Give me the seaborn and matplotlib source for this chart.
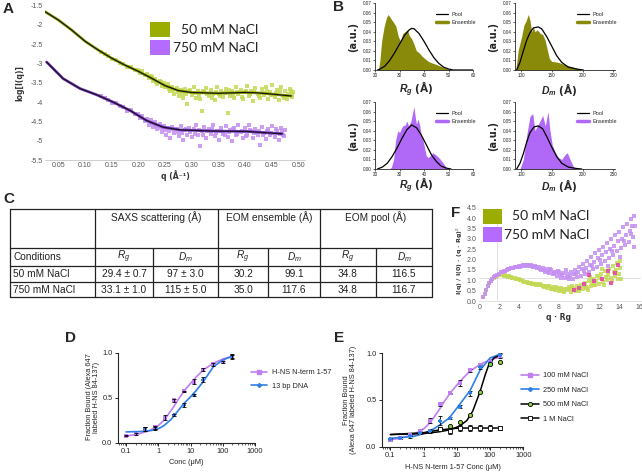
import matplotlib
matplotlib.use("Agg")
import matplotlib.pyplot as plt
from matplotlib.patches import Rectangle
from matplotlib.lines import Line2D
import seaborn as sns

# ====================== DATA ======================
# ---- Panel A: SAXS profiles (q in 1/A, log I) ----
A50_FIT_Q = [0.025, 0.05, 0.075, 0.10, 0.125, 0.15, 0.175, 0.20, 0.225, 0.25, 0.275, 0.30, 0.35, 0.40, 0.425, 0.45, 0.487]
A50_FIT_Y = [-1.655, -1.87, -2.13, -2.42, -2.65, -2.86, -3.04, -3.20, -3.38, -3.57, -3.70, -3.75, -3.77, -3.75, -3.76, -3.79, -3.84]
A750_FIT_Q = [0.028, 0.059, 0.091, 0.122, 0.153, 0.185, 0.216, 0.247, 0.279, 0.341, 0.404, 0.47]
A750_FIT_Y = [-2.96, -3.39, -3.65, -3.81, -4.00, -4.22, -4.48, -4.65, -4.72, -4.75, -4.76, -4.82]

A50_PTS_Q = [0.130, 0.137, 0.144, 0.151, 0.158, 0.165, 0.172, 0.179, 0.186, 0.193, 0.200, 0.204, 0.208, 0.212,
             0.216, 0.220, 0.224, 0.228, 0.232, 0.236, 0.240, 0.244, 0.248, 0.252, 0.256, 0.260, 0.264, 0.268,
             0.272, 0.276, 0.280, 0.284, 0.288, 0.292, 0.296, 0.300, 0.304, 0.308, 0.312, 0.316, 0.320, 0.324,
             0.328, 0.332, 0.336, 0.340, 0.344, 0.348, 0.352, 0.356, 0.360, 0.364, 0.368, 0.372, 0.376, 0.380,
             0.384, 0.388, 0.392, 0.396, 0.400, 0.404, 0.408, 0.412, 0.416, 0.420, 0.424, 0.428, 0.432, 0.436,
             0.440, 0.444, 0.448, 0.452, 0.456, 0.460, 0.464, 0.468, 0.472, 0.476, 0.480, 0.484, 0.488, 0.490,
             0.226, 0.234, 0.242, 0.250, 0.258, 0.266, 0.274, 0.282, 0.290, 0.298, 0.306, 0.314, 0.322, 0.330,
             0.338, 0.346, 0.354, 0.362, 0.370, 0.378, 0.386, 0.394, 0.402, 0.410, 0.418, 0.426, 0.434, 0.442,
             0.450, 0.458, 0.466, 0.474, 0.482, 0.486, 0.489]
A50_PTS_Y = [-2.70, -2.76, -2.80, -2.88, -2.90, -2.98, -3.00, -3.08, -3.09, -3.16, -3.17, -3.25, -3.18, -3.30,
             -3.26, -3.38, -3.31, -3.45, -3.40, -3.52, -3.44, -3.58, -3.50, -3.62, -3.54, -3.70, -3.60, -3.78,
             -3.63, -3.85, -3.68, -3.90, -3.66, -4.05, -3.72, -3.82, -3.62, -3.88, -3.70, -3.93, -4.22, -3.74,
             -3.64, -3.85, -3.69, -3.80, -3.95, -3.60, -3.78, -3.70, -3.87, -3.66, -4.28, -3.83, -3.72, -3.90,
             -3.62, -3.80, -3.68, -3.92, -3.74, -3.58, -3.85, -3.70, -3.96, -3.64, -3.79, -3.88, -3.67, -3.82,
             -3.60, -3.91, -3.73, -3.55, -3.86, -3.68, -3.95, -3.62, -3.84, -3.70, -3.93, -3.66, -3.80, -3.74,
             -3.36, -3.47, -3.49, -3.60, -3.66, -3.68, -3.74, -3.80, -3.78, -3.68, -3.76, -3.82, -3.71, -3.79,
             -3.88, -3.73, -3.84, -3.76, -3.69, -3.81, -3.75, -3.86, -3.70, -3.78, -3.73, -3.84, -3.76, -3.70,
             -3.81, -3.77, -3.72, -3.88, -3.78, -3.70, -3.86]

A750_PTS_Q = [0.130, 0.137, 0.144, 0.151, 0.158, 0.165, 0.172, 0.179, 0.186, 0.193, 0.200, 0.204, 0.208, 0.212,
              0.216, 0.220, 0.224, 0.228, 0.232, 0.236, 0.240, 0.244, 0.248, 0.252, 0.256, 0.260, 0.264, 0.268,
              0.272, 0.276, 0.280, 0.284, 0.288, 0.292, 0.296, 0.300, 0.304, 0.308, 0.312, 0.316, 0.320, 0.324,
              0.328, 0.332, 0.336, 0.340, 0.344, 0.348, 0.352, 0.356, 0.360, 0.364, 0.368, 0.372, 0.376, 0.380,
              0.384, 0.388, 0.392, 0.396, 0.400, 0.404, 0.408, 0.412, 0.416, 0.420, 0.424, 0.428, 0.432, 0.436,
              0.440, 0.444, 0.448, 0.452, 0.456, 0.460, 0.464, 0.468, 0.472, 0.475,
              0.226, 0.234, 0.242, 0.250, 0.258, 0.266, 0.274, 0.282, 0.290, 0.298, 0.306, 0.314, 0.322, 0.330,
              0.338, 0.346, 0.354, 0.362, 0.370, 0.378, 0.386, 0.394, 0.402, 0.410, 0.418, 0.426, 0.434, 0.442,
              0.450, 0.458, 0.466, 0.470, 0.473]
A750_PTS_Y = [-3.84, -3.90, -3.95, -4.01, -4.03, -4.11, -4.13, -4.22, -4.21, -4.32, -4.30, -4.42, -4.36, -4.50,
              -4.43, -4.58, -4.46, -4.65, -4.52, -4.70, -4.56, -4.78, -4.62, -4.85, -4.66, -4.92, -4.64, -4.80,
              -4.70, -4.88, -4.62, -4.97, -4.72, -4.84, -4.66, -4.90, -4.70, -4.60, -4.86, -5.15, -4.74, -4.64,
              -4.93, -4.70, -4.82, -4.58, -4.88, -4.75, -4.98, -4.66, -4.82, -4.62, -4.90, -4.72, -5.00, -4.68,
              -4.85, -4.60, -4.78, -4.94, -4.66, -4.84, -4.58, -4.76, -4.92, -4.69, -4.86, -5.12, -4.64, -4.80,
              -4.95, -4.70, -4.86, -4.62, -4.90, -4.74, -4.98, -4.66, -4.85, -4.72,
              -4.55, -4.62, -4.68, -4.72, -4.76, -4.70, -4.78, -4.80, -4.70, -4.78, -4.82, -4.72, -4.84, -4.76,
              -4.70, -4.80, -4.74, -4.86, -4.78, -4.70, -4.82, -4.74, -4.88, -4.72, -4.80, -4.76, -4.84, -4.74,
              -4.80, -4.70, -4.82, -4.76, -4.88]

A_XTICKS = [0.05, 0.10, 0.15, 0.20, 0.25, 0.30, 0.35, 0.40, 0.45, 0.50]
A_XTICKLABELS = ["0.05", "0.10", "0.15", "0.20", "0.25", "0.30", "0.35", "0.40", "0.45", "0.50"]
A_YTICKS = [-5.5, -5, -4.5, -4, -3.5, -3, -2.5, -2, -1.5]
A_YTICKLABELS = ["-5.5", "-5", "-4.5", "-4", "-3.5", "-3", "-2.5", "-2", "-1.5"]
SALT_LABELS = ["50 mM NaCl", "750 mM NaCl"]

# ---- Panel B: EOM distributions ----
B_RG50_ENS_X = [21.4, 22.0, 22.7, 23.7, 24.7, 25.4, 26.4, 27.5, 28.5, 29.5, 30.4, 31.3, 32.2, 33.2, 34.0, 34.9,
                35.9, 36.9, 38.0, 39.0, 40.3, 41.7, 43.7, 45.8, 47.8, 49.8, 51.2]
B_RG50_ENS_Y = [0.0, 0.010, 0.030, 0.045, 0.055, 0.058, 0.054, 0.050, 0.046, 0.035, 0.030, 0.038, 0.040, 0.042,
                0.036, 0.033, 0.027, 0.020, 0.018, 0.015, 0.012, 0.009, 0.007, 0.005, 0.003, 0.001, 0.0]
B_RG50_POOL_X = [21, 22, 24, 26, 28, 30, 32, 34, 35, 36, 38, 40, 42, 44, 46, 48, 50, 52, 60]
B_RG50_POOL_Y = [0.0, 0.001, 0.004, 0.010, 0.018, 0.027, 0.036, 0.042, 0.0435, 0.043, 0.038, 0.030, 0.021,
                 0.013, 0.007, 0.003, 0.001, 0.0, 0.0]
B_DM50_ENS_X = [90.8, 92.4, 95.1, 97.8, 100.5, 104.3, 107.6, 111.4, 114.1, 116.8, 119.6, 122.3, 126.1, 130.4,
                134.8, 138.6, 142.4, 145.7, 149.5, 160.3, 173.9, 190.2, 195.7]
B_DM50_ENS_Y = [0.0, 0.007, 0.021, 0.028, 0.035, 0.047, 0.051, 0.058, 0.052, 0.040, 0.045, 0.040, 0.042, 0.0385,
                0.037, 0.0315, 0.021, 0.012, 0.009, 0.008, 0.005, 0.002, 0.0]
B_DM50_POOL_X = [92.4, 97.8, 103.3, 108.7, 114.1, 119.6, 127.7, 133.2, 141.3, 149.5, 157.6, 165.8, 176.6, 190.2, 201.1]
B_DM50_POOL_Y = [0.0, 0.008, 0.020, 0.031, 0.039, 0.044, 0.045, 0.043, 0.035, 0.025, 0.015, 0.008, 0.003, 0.001, 0.0]

B_RG750_ENS_X = [26.0, 26.7, 27.6, 28.4, 29.3, 30.0, 30.7, 31.3, 32.3, 33.0, 33.7, 34.7, 35.3, 35.9, 36.4, 36.9,
                 37.6, 38.3, 38.9, 39.6, 40.4, 40.9, 41.7, 42.7, 43.6, 44.7, 46.0, 47.3, 48.4, 49.3, 50.0]
B_RG750_ENS_Y = [0.0, 0.002, 0.010, 0.030, 0.040, 0.038, 0.042, 0.045, 0.046, 0.050, 0.045, 0.050, 0.058, 0.065,
                 0.055, 0.047, 0.052, 0.045, 0.035, 0.030, 0.020, 0.014, 0.012, 0.014, 0.017, 0.015, 0.012, 0.008,
                 0.004, 0.001, 0.0]
B_RG750_POOL_X = [21, 23, 25, 27, 29, 31, 33, 35, 37, 39, 41, 43, 45, 47, 49, 51]
B_RG750_POOL_Y = [0.0, 0.002, 0.006, 0.013, 0.022, 0.032, 0.041, 0.046, 0.043, 0.035, 0.025, 0.015, 0.008,
                  0.003, 0.001, 0.0]
B_DM750_ENS_X = [97.8, 103.3, 108.7, 114.1, 118.5, 122.3, 126.1, 130.4, 134.8, 139.1, 143.5, 146.7, 150.5, 154.9,
                 160.3, 165.8, 171.2, 175.0, 179.4, 183.7, 187.5]
B_DM750_ENS_Y = [0.0, 0.010, 0.035, 0.055, 0.058, 0.040, 0.045, 0.050, 0.056, 0.045, 0.060, 0.040, 0.025, 0.018,
                 0.012, 0.010, 0.015, 0.017, 0.010, 0.004, 0.0]
B_DM750_POOL_X = [92.4, 97.8, 103.3, 108.7, 114.1, 120.7, 127.7, 134.8, 141.3, 149.5, 157.6, 165.8, 176.6, 190.2, 198.4]
B_DM750_POOL_Y = [0.0, 0.006, 0.016, 0.028, 0.038, 0.044, 0.045, 0.042, 0.034, 0.023, 0.013, 0.006, 0.002,
                  0.0005, 0.0]
B_RG_TICKS = [20, 30, 40, 50, 60]
B_DM_TICKS = [100, 150, 200, 250]
B_Y_TICKS = [0.00, 0.01, 0.02, 0.03, 0.04, 0.05, 0.06, 0.07]
B_LEGEND = ["Pool", "Ensemble"]

# ---- Panel C: table ----
TAB_GROUPS = ["SAXS scattering (Å)", "EOM ensemble (Å)", "EOM pool (Å)"]
TAB_SUBHEAD = ["Conditions", r"$R_g$", r"$D_m$", r"$R_g$", r"$D_m$", r"$R_g$", r"$D_m$"]
TAB_ROWNAMES = ["50 mM NaCl", "750 mM NaCl"]
TAB_VALUES = [["29.4 ± 0.7", "97 ± 3.0", "30.2", "99.1", "34.8", "116.5"],
              ["33.1 ± 1.0", "115 ± 5.0", "35.0", "117.6", "34.8", "116.7"]]

# ---- Panel D: binding ----
D_NT_CONC = [0.1, 0.2, 0.39, 0.78, 1.56, 3.125, 6.25, 12.5, 25, 50, 100, 200]
D_NT_Y = [0.08, 0.10, 0.15, 0.17, 0.28, 0.47, 0.57, 0.68, 0.81, 0.87, 0.90, 0.96]
D_NT_ERR = [0.01, 0.01, 0.02, 0.02, 0.025, 0.02, 0.01, 0.025, 0.015, 0.015, 0.01, 0.025]
D_NT_FIT_X = [0.1, 0.2, 0.5, 1, 1.5, 2, 3, 4.5, 6.5, 10, 15, 25, 50, 100, 200]
D_NT_FIT_Y = [0.075, 0.09, 0.13, 0.19, 0.25, 0.31, 0.40, 0.50, 0.58, 0.66, 0.73, 0.81, 0.88, 0.93, 0.96]
D_DNA_CONC = [0.39, 0.78, 3.125, 6.25, 12.5, 25, 200]
D_DNA_Y = [0.15, 0.16, 0.31, 0.42, 0.53, 0.70, 0.96]
D_DNA_ERR = [0.02, 0.02, 0.01, 0.02, 0.01, 0.03, 0.02]
D_DNA_FIT_X = [0.1, 0.3, 0.6, 1, 1.5, 2.5, 4, 6, 10, 15, 25, 50, 100, 200]
D_DNA_FIT_Y = [0.12, 0.125, 0.135, 0.155, 0.19, 0.26, 0.35, 0.43, 0.51, 0.58, 0.68, 0.84, 0.92, 0.96]
D_LEGEND = ["H-NS N-term 1-57", "13 bp DNA"]

# ---- Panel E: salt dependence ----
E_CONC = [0.1, 0.2, 0.39, 0.78, 1.56, 3.125, 6.25, 12.5, 25, 50, 100, 200]
E100_Y = [0.07, 0.09, 0.13, 0.17, 0.28, 0.46, 0.57, 0.68, 0.82, 0.87, 0.91, 0.97]
E100_ERR = [0.01, 0.01, 0.02, 0.02, 0.03, 0.02, 0.01, 0.03, 0.015, 0.015, 0.01, 0.02]
E250_Y = [0.08, 0.09, 0.11, 0.15, 0.17, 0.28, 0.31, 0.43, 0.57, 0.85, 0.90, 0.98]
E250_ERR = [0.01, 0.01, 0.015, 0.015, 0.02, 0.05, 0.01, 0.02, 0.03, 0.02, 0.01, 0.02]
E500_CONC = [3.125, 6.25, 12.5, 25, 50, 100, 200]
E500_Y = [0.19, 0.22, 0.26, 0.34, 0.59, 0.89, 0.91]
E1M_CONC = [3.125, 6.25, 12.5, 25, 50, 100, 200]
E1M_Y = [0.19, 0.17, 0.20, 0.20, 0.20, 0.20, 0.20]
E1M_ERR = [0.02, 0.03, 0.03, 0.03, 0.03, 0.03, 0.02]
E100_FIT_X = [0.1, 0.2, 0.5, 1, 1.5, 2, 3, 4.5, 6.5, 10, 15, 25, 50, 100, 200]
E100_FIT_Y = [0.075, 0.09, 0.13, 0.19, 0.25, 0.31, 0.40, 0.50, 0.58, 0.66, 0.73, 0.81, 0.88, 0.93, 0.96]
E250_FIT_X = [0.1, 0.5, 1, 2, 3, 6, 12, 25, 50, 100, 200]
E250_FIT_Y = [0.09, 0.11, 0.14, 0.19, 0.23, 0.31, 0.45, 0.60, 0.82, 0.95, 0.99]
E500_FIT_X = [0.1, 1, 3, 6, 12, 20, 30, 50, 70, 90, 130, 200]
E500_FIT_Y = [0.13, 0.14, 0.16, 0.18, 0.22, 0.28, 0.38, 0.59, 0.76, 0.87, 0.95, 0.98]
E1M_FIT_X = [0.1, 1, 3, 6, 12, 200]
E1M_FIT_Y = [0.13, 0.15, 0.18, 0.19, 0.20, 0.20]
E_LEGEND = ["100 mM NaCl", "250 mM NaCl", "500 mM NaCl", "1 M NaCl"]
LOG_TICKS = [0.1, 1, 10, 100, 1000]
LOG_TICKLABELS = ["0.1", "1", "10", "100", "1000"]

# ---- Panel F: dimensionless Kratky ----
F50_X = [0.40, 0.55, 0.70, 0.85, 1.00, 1.15, 1.30, 1.45, 1.60, 1.80, 2.00, 2.20, 2.40, 2.60, 2.80, 3.00, 3.20,
         3.40, 3.60, 3.80, 4.00, 4.20, 4.40, 4.60, 4.80, 5.00, 5.20, 5.40, 5.60, 5.80, 6.00, 6.20, 6.40, 6.60,
         6.80, 7.00, 7.20, 7.40, 7.60, 7.80, 8.00, 8.20, 8.40, 8.60, 8.80, 9.00, 9.20, 9.40, 9.60, 9.80, 10.00,
         10.20, 10.40, 10.60, 10.80, 11.00, 11.20, 11.40, 11.60, 11.80, 12.00, 12.20, 12.40, 12.60, 12.80, 13.00,
         13.20, 13.40, 13.60, 13.80, 14.00, 14.10, 14.20,
         6.1, 6.5, 6.9, 7.3, 7.7, 8.1, 8.5, 8.9, 9.3, 9.7, 10.1, 10.5, 10.9, 11.3, 11.7, 12.1, 12.5, 12.9, 13.3,
         13.7, 14.05, 13.9, 12.3, 11.1,
         2.5, 2.9, 3.3, 3.7, 4.1, 4.5, 4.9, 5.3, 5.7, 7.5, 8.3, 9.1, 9.9, 10.7, 11.5, 12.7, 13.5]
F50_Y = [0.18, 0.35, 0.55, 0.72, 0.85, 0.96, 1.04, 1.12, 1.17, 1.22, 1.26, 1.28, 1.27, 1.25, 1.22, 1.20, 1.16,
         1.13, 1.10, 1.06, 1.04, 1.00, 0.98, 0.94, 0.93, 0.88, 0.86, 0.84, 0.80, 0.80, 0.75, 0.76, 0.70, 0.72,
         0.65, 0.70, 0.60, 0.66, 0.55, 0.62, 0.50, 0.64, 0.48, 0.60, 0.52, 0.66, 0.45, 0.62, 0.55, 0.72, 0.50,
         0.78, 0.60, 0.85, 0.62, 0.95, 0.70, 1.05, 0.75, 1.20, 0.80, 1.30, 0.90, 1.45, 1.00, 1.55,
         1.10, 1.70, 1.20, 1.85, 1.30, 1.95, 1.05,
         0.82, 0.68, 0.74, 0.58, 0.68, 0.56, 0.42, 0.60, 0.70, 0.48, 0.65, 0.72, 0.55, 0.85, 0.98, 1.10, 0.75, 1.25,
         0.95, 1.50, 1.60, 1.05, 1.55, 1.15,
         1.22, 1.18, 1.12, 1.05, 1.00, 0.93, 0.88, 0.82, 0.78, 0.58, 0.52, 0.56, 0.60, 0.68, 0.78, 1.15, 1.40]
F750_X = [0.40, 0.55, 0.70, 0.85, 1.00, 1.15, 1.30, 1.45, 1.60, 1.80, 2.00, 2.20, 2.40, 2.60, 2.80, 3.00, 3.20,
          3.40, 3.60, 3.80, 4.00, 4.20, 4.40, 4.60, 4.80, 5.00, 5.20, 5.40, 5.60, 5.80, 6.00, 6.20, 6.40, 6.60,
          6.80, 7.00, 7.20, 7.40, 7.60, 7.80, 8.00, 8.20, 8.40, 8.60, 8.80, 9.00, 9.20, 9.40, 9.60, 9.80, 10.00,
          10.20, 10.40, 10.60, 10.80, 11.00, 11.20, 11.40, 11.60, 11.80, 12.00, 12.20, 12.40, 12.60, 12.80, 13.00,
          13.20, 13.40, 13.60, 13.80, 14.00, 14.20, 14.40, 14.60, 14.80, 15.00, 15.20, 15.40, 15.50, 15.60,
          7.1, 7.9, 8.3, 8.7, 9.1, 9.5, 9.9, 10.3, 10.7, 11.1, 11.5, 11.9, 12.3, 12.7, 13.1, 13.5, 13.9, 14.3, 14.7,
          15.1, 15.3, 12.9, 14.1, 15.5,
          2.5, 2.9, 3.3, 3.7, 4.1, 4.5, 4.9, 5.3, 5.7, 6.1, 6.5, 6.9, 7.5, 8.1, 8.9, 9.7, 10.5, 11.3, 12.1, 13.3,
          14.5, 15.2]
F750_Y = [0.18, 0.36, 0.55, 0.72, 0.86, 0.97, 1.06, 1.14, 1.20, 1.27, 1.32, 1.38, 1.42, 1.47, 1.50, 1.54, 1.58,
          1.60, 1.64, 1.66, 1.70, 1.68, 1.74, 1.70, 1.76, 1.68, 1.72, 1.62, 1.70, 1.58, 1.64, 1.50, 1.60, 1.42,
          1.52, 1.35, 1.48, 1.28, 1.42, 1.20, 1.38, 1.12, 1.35, 1.10, 1.30, 1.05, 1.40, 1.08, 1.50, 1.15, 1.62,
          1.22, 1.80, 1.30, 1.95, 1.40, 2.10, 1.55, 2.30, 1.65, 2.45, 1.80, 2.60, 1.95, 2.80, 2.05,
          3.00, 2.20, 3.20, 2.40, 3.35, 2.55, 3.55, 2.70, 3.70, 2.85, 3.95, 3.10, 4.10, 3.60,
          1.55, 1.45, 1.25, 1.50, 1.20, 1.30, 1.40, 1.55, 1.60, 1.75, 1.90, 2.05, 2.20, 2.35, 2.50, 2.65, 2.90, 3.00,
          3.20, 3.40, 3.60, 1.70, 2.10, 2.60,
          1.46, 1.52, 1.57, 1.62, 1.66, 1.72, 1.74, 1.70, 1.64, 1.56, 1.48, 1.40, 1.33, 1.25, 1.18, 1.28, 1.45,
          1.70, 2.00, 2.40, 2.90, 3.25]
FMIX_X = [9.5, 10.0, 10.5, 11.5, 12.3, 12.9, 13.6, 13.2, 11.0, 13.9]
FMIX_Y = [0.55, 0.62, 0.80, 0.95, 1.05, 1.45, 1.35, 0.85, 1.25, 1.75]
F_XTICKS = [0, 2, 4, 6, 8, 10, 12, 14, 16]
F_YTICKS = [0.0, 0.5, 1.0, 1.5, 2.0, 2.5, 3.0, 3.5, 4.0, 4.5]

# ====================== STYLE ======================
sns.set_theme(style="ticks")
plt.rcParams['font.family'] = ['Liberation Sans', 'DejaVu Sans']
plt.rcParams['mathtext.fontset'] = 'custom'
plt.rcParams['mathtext.rm'] = 'Liberation Sans'
plt.rcParams['mathtext.it'] = 'Liberation Sans:italic'
plt.rcParams['mathtext.bf'] = 'Liberation Sans:bold'
plt.rcParams['mathtext.bfit'] = 'Liberation Sans:italic:bold'

C50 = '#9aad00'
C750 = '#b46cff'
C50_PT = '#c3d955'
C750_PT = '#c48ef2'
C50_ENS = '#8a8a0a'
C750_ENS = '#b068f6'
CPUR = '#c07ef0'
CBLUE = '#2f7fe6'
CGREEN = '#8fd13f'

W, H = 642, 473
fig = plt.figure(figsize=(W / 100, H / 100), dpi=100)
fig.patch.set_facecolor('white')


def pax(l, t, r, b):
    return fig.add_axes([l / W, 1 - b / H, (r - l) / W, (b - t) / H])


ov = fig.add_axes([0, 0, 1, 1], zorder=20)
ov.set_xlim(0, W)
ov.set_ylim(H, 0)
ov.axis('off')

# ====================== PANEL A ======================
axA = pax(45, 5.7, 305, 160)
sns.scatterplot(x=A50_PTS_Q, y=A50_PTS_Y, ax=axA, color=C50_PT, s=6, marker='s', linewidth=0, alpha=0.85)
sns.scatterplot(x=A750_PTS_Q, y=A750_PTS_Y, ax=axA, color=C750_PT, s=6, marker='s', linewidth=0, alpha=0.85)
sns.lineplot(x=A50_FIT_Q, y=A50_FIT_Y, ax=axA, color=C50, lw=2.0, estimator=None, sort=False)
sns.lineplot(x=A50_FIT_Q, y=A50_FIT_Y, ax=axA, color='#151515', lw=0.9, estimator=None, sort=False)
sns.lineplot(x=A750_FIT_Q, y=A750_FIT_Y, ax=axA, color='#7a3fc0', lw=2.0, estimator=None, sort=False)
sns.lineplot(x=A750_FIT_Q, y=A750_FIT_Y, ax=axA, color='#1a1024', lw=0.9, estimator=None, sort=False)
axA.set_xlim(0.025, 0.513)
axA.set_ylim(-5.5, -1.5)
axA.set_xticks(A_XTICKS)
axA.set_xticklabels(A_XTICKLABELS)
axA.set_yticks(A_YTICKS)
axA.set_yticklabels(A_YTICKLABELS)
axA.tick_params(length=0, labelsize=5, colors='#555555', pad=1.5)
for s in ['top', 'right', 'left']:
    axA.spines[s].set_visible(False)
axA.spines['bottom'].set_color('#c8c8c8')
axA.spines['bottom'].set_linewidth(0.6)
axA.set_xlabel('')
axA.set_ylabel('')
ov.text(20, 83, 'log[I(q)]', rotation=90, fontsize=5.5, fontweight='bold', ha='center', va='center',
        color='#333333', family='DejaVu Sans')
ov.text(175, 175.5, 'q (Å⁻¹)', fontsize=5.6, fontweight='bold', ha='center', va='center', color='#333333',
        family='DejaVu Sans')
for i, (lab, col) in enumerate(zip(SALT_LABELS, [C50, C750])):
    y0 = 22 + i * 18
    ov.add_patch(Rectangle((150, y0), 20, 15, color=col, lw=0))
    ov.text(258, y0 + 7.5, lab, fontsize=10, ha='right', va='center', color='#222222', family='Lato')

# ====================== PANEL B ======================
def dist_panel(box, ex, ey, qx, qy, col, xlim, xticks, label, labx, laby):
    ax = pax(*box)
    ax.fill_between(ex, 0, ey, color=col, lw=0)
    sns.lineplot(x=qx, y=qy, ax=ax, color='black', lw=0.9, estimator=None, sort=False)
    ax.set_xlim(*xlim)
    ax.set_ylim(0, 0.07)
    ax.set_xticks(xticks)
    ax.set_yticks(B_Y_TICKS)
    ax.set_yticklabels([f"{v:.2f}" for v in B_Y_TICKS])
    ax.tick_params(labelsize=3.3, length=1.5, width=0.5, pad=0.8)
    for s in ['top', 'right']:
        ax.spines[s].set_visible(False)
    for s in ['left', 'bottom']:
        ax.spines[s].set_linewidth(0.6)
    ax.set_xlabel('')
    ax.set_ylabel('')
    handles = [Line2D([0], [0], color='black', lw=0.9), Line2D([0], [0], color=col, lw=2.5)]
    ax.legend(handles, B_LEGEND, loc='upper left', bbox_to_anchor=(0.6, 0.9), frameon=False, fontsize=4,
              handlelength=2.2, handletextpad=0.5, labelspacing=0.5, borderaxespad=0)
    ov.text(labx, laby, label, fontsize=7.5, fontweight='bold', ha='center', va='center', family='DejaVu Sans')
    ov.text(box[0] - 22, (box[1] + box[3]) / 2, '(a.u.)', rotation=90, fontsize=7, fontweight='bold',
            ha='center', va='center', family='DejaVu Sans')
    return ax


dist_panel((375, 3, 473, 70), B_RG50_ENS_X, B_RG50_ENS_Y, B_RG50_POOL_X, B_RG50_POOL_Y, C50_ENS, (20, 60),
           B_RG_TICKS, r'$\mathbfit{R_g}$ (Å)', 416, 89)
dist_panel((515, 3, 615, 70), B_DM50_ENS_X, B_DM50_ENS_Y, B_DM50_POOL_X, B_DM50_POOL_Y, C50_ENS, (89.7, 252.7),
           B_DM_TICKS, r'$\mathbfit{D_m}$ (Å)', 559, 89)
dist_panel((375, 102, 473, 169), B_RG750_ENS_X, B_RG750_ENS_Y, B_RG750_POOL_X, B_RG750_POOL_Y, C750_ENS,
           (20, 60), B_RG_TICKS, r'$\mathbfit{R_g}$ (Å)', 416, 185.5)
dist_panel((515, 102, 615, 169), B_DM750_ENS_X, B_DM750_ENS_Y, B_DM750_POOL_X, B_DM750_POOL_Y, C750_ENS,
           (89.7, 252.7), B_DM_TICKS, r'$\mathbfit{D_m}$ (Å)', 559, 185.5)

# ====================== PANEL C (table) ======================
col_x = [10, 95, 153, 218, 268, 320, 376, 432]
row_y = [209, 248, 266, 282, 297]
lw_t = 0.9
for y in row_y:
    ov.plot([col_x[0], col_x[-1]], [y, y], color='#222222', lw=lw_t)
for x in [10, 95, 218, 320, 432]:
    ov.plot([x, x], [row_y[0], row_y[1]], color='#222222', lw=lw_t)
for x in col_x:
    ov.plot([x, x], [row_y[1], row_y[-1]], color='#222222', lw=lw_t)
grp_spans = [(95, 218), (218, 320), (320, 432)]
for g, (a, b) in zip(TAB_GROUPS, grp_spans):
    ov.text((a + b) / 2, 217.5, g, fontsize=7.3, ha='center', va='center', color='#222222')
ov.text(13, 257, TAB_SUBHEAD[0], fontsize=7.3, ha='left', va='center', color='#222222')
for j in range(1, 7):
    ov.text((col_x[j] + col_x[j + 1]) / 2, 257, TAB_SUBHEAD[j], fontsize=7.3, ha='center', va='center',
            color='#222222')
for i, (name, vals) in enumerate(zip(TAB_ROWNAMES, TAB_VALUES)):
    yc = [274, 289.5][i]
    ov.text(13, yc, name, fontsize=7.3, ha='left', va='center', color='#222222')
    for j, v in enumerate(vals):
        ov.text((col_x[j + 1] + col_x[j + 2]) / 2, yc, v, fontsize=7.3, ha='center', va='center',
                color='#222222')

# ====================== PANEL D ======================
def binding_axes(box):
    ax = pax(*box)
    ax.set_xscale('log')
    ax.set_ylim(0, 1.0)
    ax.set_yticks([0.0, 0.5, 1.0])
    ax.set_yticklabels(['0.0', '0.5', '1.0'])
    ax.set_xticks(LOG_TICKS)
    ax.set_xticklabels(LOG_TICKLABELS)
    ax.tick_params(labelsize=5.3, length=2.5, width=0.7, pad=1.5)
    ax.tick_params(which='minor', length=1.5, width=0.5)
    for s in ['top', 'right']:
        ax.spines[s].set_visible(False)
    for s in ['left', 'bottom']:
        ax.spines[s].set_linewidth(0.8)
    return ax


axD = binding_axes((118, 352.7, 255, 442.7))
sns.lineplot(x=D_NT_FIT_X, y=D_NT_FIT_Y, ax=axD, color=CPUR, lw=1.2, estimator=None, sort=False)
sns.lineplot(x=D_DNA_FIT_X, y=D_DNA_FIT_Y, ax=axD, color=CBLUE, lw=1.2, estimator=None, sort=False)
axD.errorbar(D_NT_CONC, D_NT_Y, yerr=D_NT_ERR, fmt='none', ecolor='black', elinewidth=0.6, capsize=1.5,
             capthick=0.6)
axD.errorbar(D_DNA_CONC, D_DNA_Y, yerr=D_DNA_ERR, fmt='none', ecolor='black', elinewidth=0.6, capsize=1.5,
             capthick=0.6)
sns.scatterplot(x=D_NT_CONC, y=D_NT_Y, ax=axD, color=CPUR, marker='s', s=6, linewidth=0)
sns.scatterplot(x=D_DNA_CONC, y=D_DNA_Y, ax=axD, color=CBLUE, marker='P', s=6, linewidth=0)
axD.set_xlim(0.056, 1000)
axD.set_ylim(0, 1.0)
axD.set_xlabel('')
axD.set_ylabel('')
ov.text(93, 397, 'Fraction Bound (Alexa 647\nlabeled H-NS 84-137)', rotation=90, fontsize=5.3, ha='center',
        va='center', linespacing=1.1)
ov.text(186, 462, 'Conc (μM)', fontsize=5.3, ha='center', va='center')
hD = [Line2D([0], [0], color=CPUR, lw=1.2, marker='s', ms=2.5),
      Line2D([0], [0], color=CBLUE, lw=1.2, marker='P', ms=2.5)]
fig.legend(hD, D_LEGEND, loc='upper left', bbox_to_anchor=(251 / W, 1 - 369 / H), frameon=False, fontsize=5.3,
           handlelength=2.2, handletextpad=0.6, labelspacing=0.9, borderaxespad=0, borderpad=0)

# ====================== PANEL E ======================
axE = binding_axes((382, 353.3, 523.3, 446.7))
sns.lineplot(x=E100_FIT_X, y=E100_FIT_Y, ax=axE, color=CPUR, lw=1.2, estimator=None, sort=False)
sns.lineplot(x=E250_FIT_X, y=E250_FIT_Y, ax=axE, color=CBLUE, lw=1.2, estimator=None, sort=False)
sns.lineplot(x=E500_FIT_X, y=E500_FIT_Y, ax=axE, color='black', lw=1.1, estimator=None, sort=False)
sns.lineplot(x=E1M_FIT_X, y=E1M_FIT_Y, ax=axE, color='black', lw=1.1, estimator=None, sort=False)
for xs, ys, es in [(E_CONC, E100_Y, E100_ERR), (E_CONC, E250_Y, E250_ERR), (E1M_CONC, E1M_Y, E1M_ERR)]:
    axE.errorbar(xs, ys, yerr=es, fmt='none', ecolor='black', elinewidth=0.6, capsize=1.5, capthick=0.6)
sns.scatterplot(x=E_CONC, y=E100_Y, ax=axE, color=CPUR, marker='s', s=6, linewidth=0, zorder=5)
sns.scatterplot(x=E_CONC, y=E250_Y, ax=axE, color=CBLUE, marker='P', s=6, linewidth=0, zorder=5)
sns.scatterplot(x=E500_CONC, y=E500_Y, ax=axE, color=CGREEN, marker='o', s=9, edgecolor='black',
                linewidth=0.6, zorder=6)
sns.scatterplot(x=E1M_CONC, y=E1M_Y, ax=axE, color='white', marker='s', s=8, edgecolor='black',
                linewidth=0.6, zorder=6)
axE.set_xlim(0.056, 1000)
axE.set_ylim(0, 1.0)
axE.set_xlabel('')
axE.set_ylabel('')
ov.text(350, 400, 'Fraction Bound\n(Alexa 647 labeled H-NS 84-137)', rotation=90, fontsize=5.3, ha='center',
        va='center', linespacing=1.1)
ov.text(453, 467, 'H-NS N-term 1-57 Conc (μM)', fontsize=5.3, ha='center', va='center')
hE = [Line2D([0], [0], color=CPUR, lw=1.2, marker='s', ms=2.5),
      Line2D([0], [0], color=CBLUE, lw=1.2, marker='P', ms=2.5),
      Line2D([0], [0], color='black', lw=1.1, marker='o', ms=3, mfc=CGREEN, mec='black', mew=0.6),
      Line2D([0], [0], color='black', lw=1.1, marker='s', ms=3, mfc='white', mec='black', mew=0.6)]
fig.legend(hE, E_LEGEND, loc='upper left', bbox_to_anchor=(521 / W, 1 - 372 / H), frameon=False, fontsize=5.3,
           handlelength=2.4, handletextpad=0.6, labelspacing=1.0, borderaxespad=0, borderpad=0)

# ====================== PANEL F ======================
axF = pax(479.3, 207.7, 641, 301)
axF.axhline(1.104, color='#dddddd', lw=0.6, zorder=0)
axF.axvline(1.732, color='#dddddd', lw=0.6, zorder=0)
sns.scatterplot(x=F50_X, y=F50_Y, ax=axF, color=C50_PT, s=8, marker='s', linewidth=0, alpha=0.85)
sns.scatterplot(x=F750_X, y=F750_Y, ax=axF, color=C750_PT, s=8, marker='s', linewidth=0, alpha=0.85)
sns.scatterplot(x=FMIX_X, y=FMIX_Y, ax=axF, color='#e04aa6', s=6, marker='s', linewidth=0, alpha=0.9)
axF.set_xlim(0, 16.2)
axF.set_ylim(0, 4.5)
axF.set_xticks(F_XTICKS)
axF.set_yticks(F_YTICKS)
axF.set_yticklabels([f"{v:.1f}" for v in F_YTICKS])
axF.tick_params(length=0, labelsize=5, colors='#555555', pad=2)
for s in ['top', 'right', 'left']:
    axF.spines[s].set_visible(False)
axF.spines['bottom'].set_color('#dddddd')
axF.spines['bottom'].set_linewidth(0.6)
axF.set_xlabel('')
axF.set_ylabel('')
ov.text(459.5, 261, 'I(q) / I(0) · (q · Rg)$^2$', rotation=90, fontsize=4.5, fontweight='bold', ha='center',
        va='center', color='#333333', family='DejaVu Sans')
ov.text(559, 317, 'q · Rg', fontsize=5.5, fontweight='bold', ha='center', va='center', color='#333333',
        family='DejaVu Sans')
for i, (lab, col) in enumerate(zip(SALT_LABELS, [C50, C750])):
    y0 = 208.5 + i * 18.5
    ov.add_patch(Rectangle((482.7, y0), 19, 15, color=col, lw=0))
    ov.text(589, y0 + 7.8, lab, fontsize=10, ha='right', va='center', color='#222222', family='Lato')

# ====================== PANEL LETTERS ======================
for letter, x, y in [('A', 3, 9), ('B', 333, 7), ('C', 3, 199), ('D', 65, 338), ('E', 334, 338), ('F', 451, 213)]:
    ov.text(x, y, letter, fontsize=11, fontweight='bold', ha='left', va='center', family='Liberation Sans')

fig.savefig('out.png', dpi=100)
